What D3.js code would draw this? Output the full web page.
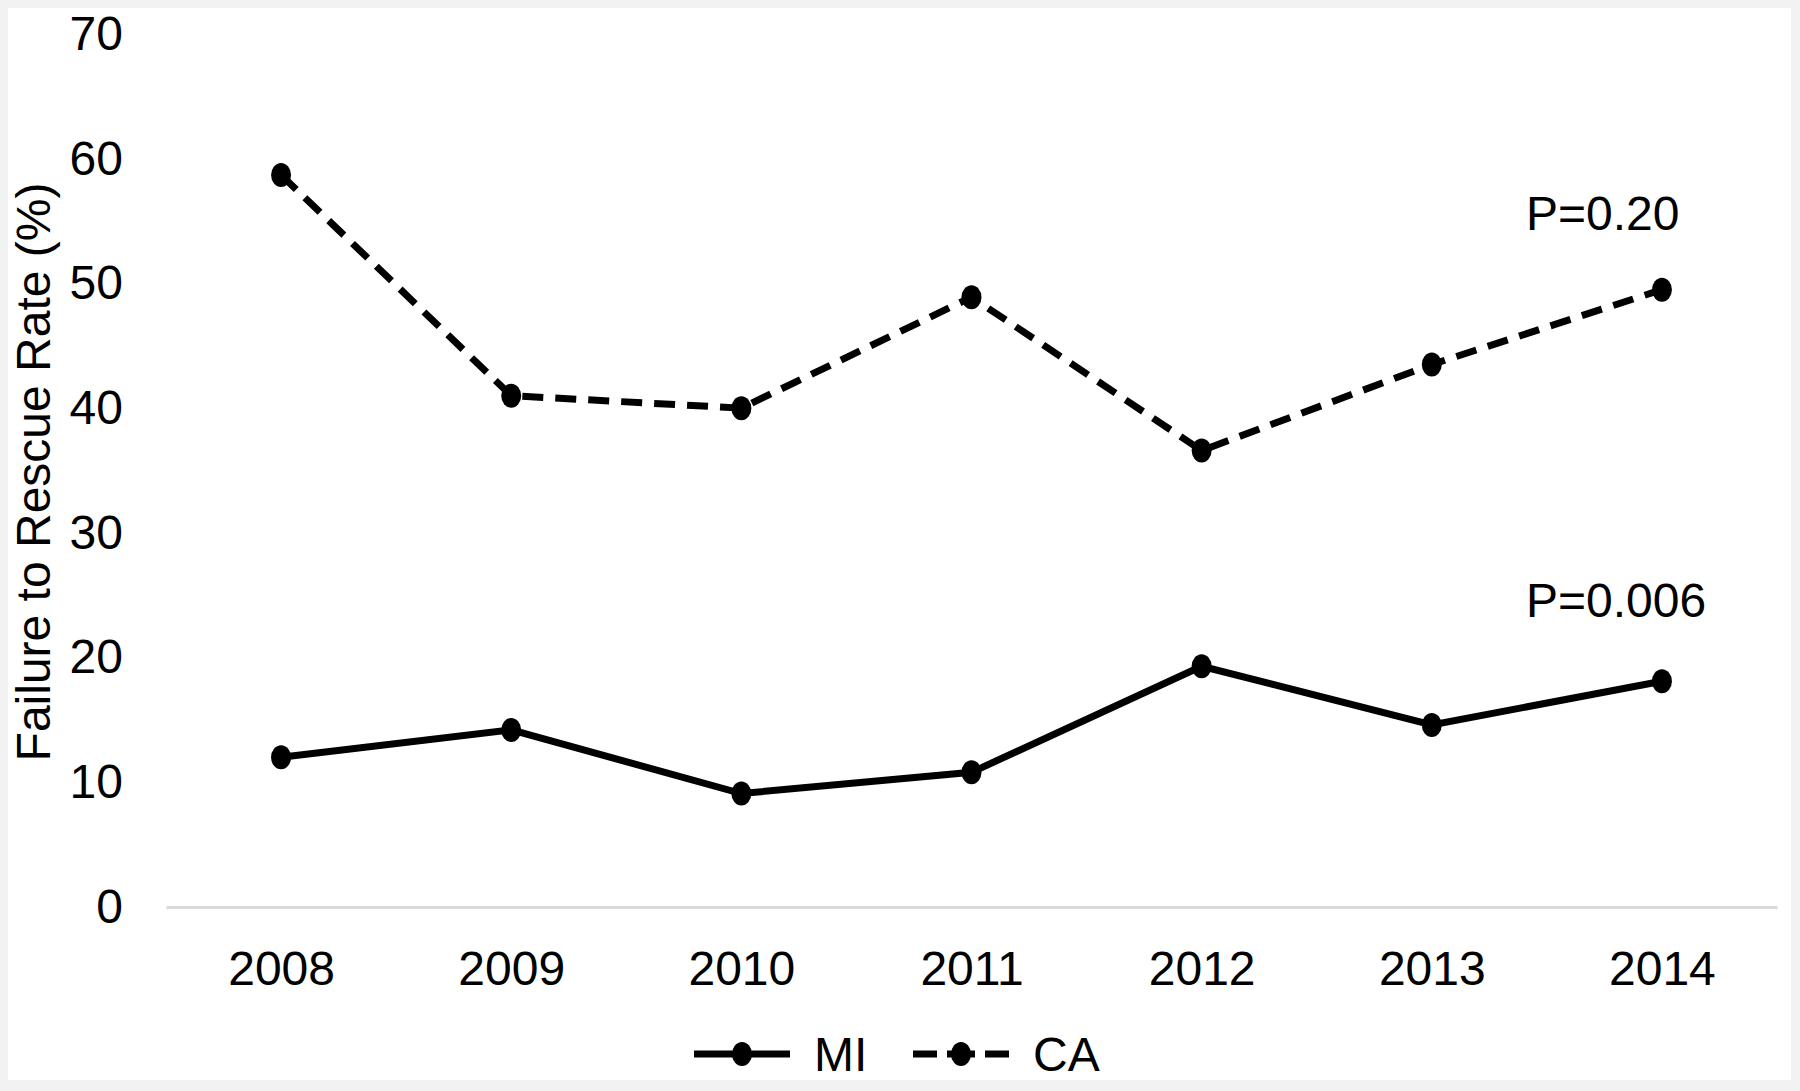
<!DOCTYPE html>
<html>
<head>
<meta charset="utf-8">
<script src="https://cdn.jsdelivr.net/npm/d3@7"></script>
<style>
  body { margin: 0; background: #f2f2f2; }
  text { font-family: "Liberation Sans", Arial, sans-serif; fill: #000; }
</style>
</head>
<body>
<div id="chart"></div>
<script>
// data
const years = ["2008", "2009", "2010", "2011", "2012", "2013", "2014"];
const miValues = [12.0, 14.2, 9.1, 10.8, 19.3, 14.6, 18.1];
const caValues = [58.7, 41.0, 40.0, 48.9, 36.6, 43.5, 49.5];
const yTicks = [0, 10, 20, 30, 40, 50, 60, 70];
const seriesNames = ["MI", "CA"];
const pLabels = ["P=0.006", "P=0.20"];

const w = 1800, h = 1091;
const fontSize = 48;
const dash = "21,12";

const svg = d3.select("#chart").append("svg")
    .attr("width", w)
    .attr("height", h);

// light frame round the picture
svg.append("rect").attr("width", w).attr("height", h).attr("fill", "#f2f2f2");
svg.append("rect").attr("x", 8).attr("y", 8).attr("width", w - 17).attr("height", h - 19).attr("fill", "#fff");

const x = d3.scalePoint()
    .domain(years)
    .range([166, 1777])
    .padding(0.5);

const y = d3.scaleLinear()
    .domain([0, 70])
    .range([907, 34]);

// y axis, labels only
const yAxis = svg.append("g")
    .attr("transform", "translate(166,0)")
    .call(d3.axisLeft(y).tickValues(yTicks).tickSize(0).tickPadding(43));
yAxis.select(".domain").remove();
yAxis.selectAll("text").style("font-size", fontSize + "px").style("font-family", "Liberation Sans, Arial, sans-serif").attr("fill", "#000");

// x axis with grey base line
const xAxis = svg.append("g")
    .attr("transform", "translate(0,907)")
    .call(d3.axisBottom(x).tickSize(0).tickPadding(44));
xAxis.select(".domain").attr("stroke", "#d9d9d9").attr("stroke-width", 3);
xAxis.selectAll("text").style("font-size", fontSize + "px").style("font-family", "Liberation Sans, Arial, sans-serif").attr("fill", "#000");

// y label
svg.append("text")
    .attr("transform", "translate(50,472) rotate(-90)")
    .attr("text-anchor", "middle")
    .style("font-size", fontSize + "px")
    .text("Failure to Rescue Rate (%)");

const line = d3.line()
    .x((d, i) => x(years[i]))
    .y(d => y(d));

const series = [
    { name: seriesNames[0], values: miValues, dash: null },
    { name: seriesNames[1], values: caValues, dash: dash }
];

series.forEach(s => {
    svg.append("path")
        .datum(s.values)
        .attr("d", line)
        .attr("fill", "none")
        .attr("stroke", "#000")
        .attr("stroke-width", 7)
        .attr("stroke-dasharray", s.dash);

    svg.selectAll(null)
        .data(s.values)
        .enter().append("ellipse")
        .attr("cx", (d, i) => x(years[i]))
        .attr("cy", d => y(d))
        .attr("rx", 10)
        .attr("ry", 12)
        .attr("fill", "#000");
});

// p-value notes next to the last year
svg.append("text")
    .attr("x", 1526).attr("y", y(caValues[6]) - 60)
    .style("font-size", fontSize + "px")
    .text(pLabels[1]);
svg.append("text")
    .attr("x", 1526).attr("y", y(miValues[6]) - 64)
    .style("font-size", fontSize + "px")
    .text(pLabels[0]);

// legend
const legendY = 1054;
const legend = [
    { name: seriesNames[0], x0: 694, dash: null },
    { name: seriesNames[1], x0: 913, dash: "24,10,28,10,24" }
];
legend.forEach(l => {
    svg.append("line")
        .attr("x1", l.x0).attr("x2", l.x0 + 96)
        .attr("y1", legendY).attr("y2", legendY)
        .attr("stroke", "#000")
        .attr("stroke-width", 7)
        .attr("stroke-dasharray", l.dash);
    svg.append("ellipse")
        .attr("cx", l.x0 + 48).attr("cy", legendY)
        .attr("rx", 10).attr("ry", 12)
        .attr("fill", "#000");
    svg.append("text")
        .attr("x", l.x0 + 120).attr("y", legendY)
        .attr("dy", "0.36em")
        .style("font-size", fontSize + "px")
        .text(l.name);
});
</script>
</body>
</html>
